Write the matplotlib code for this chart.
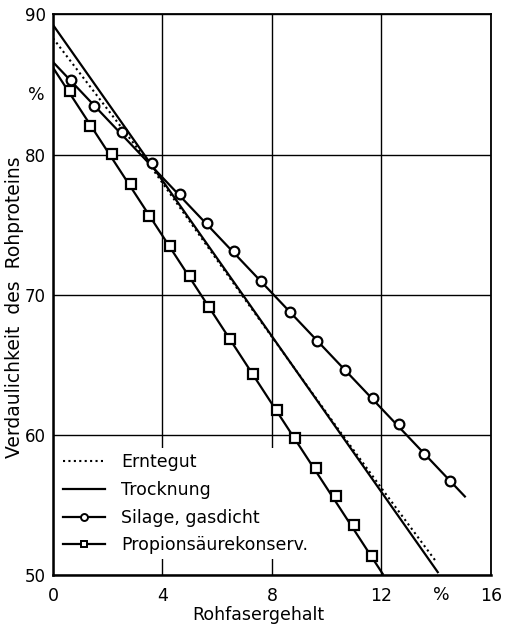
import matplotlib
matplotlib.use("Agg")
import matplotlib.pyplot as plt

# Rohfasergehalt (%) vs Verdaulichkeit des Rohproteins (%)
ernte_x = [0, 3.3, 7.0, 10.5, 12.0, 14.0]
ernte_y = [88.3, 79.9, 69.7, 60.2, 56.2, 50.95]

trock_x = [0, 14.06]
trock_y = [89.25, 50.2]

silage_line_x = [0, 15.05]
silage_line_y = [86.6, 55.6]
silage_x = [0.66, 1.51, 2.53, 3.6, 4.64, 5.63, 6.62, 7.59, 8.65, 9.65,
            10.68, 11.69, 12.63, 13.55, 14.49]
silage_y = [85.3, 83.5, 81.6, 79.4, 77.2, 75.1, 73.1, 71.0, 68.8, 66.7,
            64.6, 62.6, 60.75, 58.66, 56.74]

prop_line_x = [0, 12.05]
prop_line_y = [86.2, 50.07]
prop_x = [0.62, 1.35, 2.16, 2.85, 3.50, 4.27, 5.0, 5.70, 6.46, 7.29,
          8.19, 8.84, 9.62, 10.33, 11.0, 11.67]
prop_y = [84.53, 82.06, 80.04, 77.87, 75.63, 73.51, 71.34, 69.13, 66.87, 64.32,
          61.8, 59.8, 57.6, 55.6, 53.55, 51.38]

xticks = [0, 4, 8, 12, 16]
yticks = [50, 60, 70, 80, 90]

plt.rcParams['font.family'] = ['DejaVu Sans']

fig = plt.figure(figsize=(5.05, 6.27), dpi=100)
ax = fig.add_axes([0.105, 0.083, 0.867, 0.894])

ax.set_xlim(0, 16)
ax.set_ylim(50, 90)
ax.set_xticks(xticks)
ax.set_yticks(yticks)
ax.set_xticklabels([str(t) for t in xticks], fontsize=12.5)
ax.set_yticklabels([str(t) for t in yticks], fontsize=12)
ax.tick_params(length=0)
ax.tick_params(axis='x', pad=9)
ax.tick_params(axis='y', pad=5)
ax.grid(True, color='black', linewidth=1.0)
ax.set_axisbelow(True)
for side in ['left', 'bottom']:
    ax.spines[side].set_linewidth(1.8)
for side in ['top', 'right']:
    ax.spines[side].set_linewidth(1.3)

lw = 1.6
ax.plot(ernte_x, ernte_y, color='black', linestyle=(0, (1, 1.6)), linewidth=1.5, zorder=3)
ax.plot(trock_x, trock_y, color='black', linewidth=lw, zorder=3)
ax.plot(silage_line_x, silage_line_y, color='black', linewidth=lw, zorder=3)
ax.plot(silage_x, silage_y, linestyle='none', marker='o', markersize=7, zorder=4,
        markerfacecolor='white', markeredgecolor='black', markeredgewidth=1.6)
ax.plot(prop_line_x, prop_line_y, color='black', linewidth=lw, zorder=3)
ax.plot(prop_x, prop_y, linestyle='none', marker='s', markersize=6.5, zorder=4,
        markerfacecolor='white', markeredgecolor='black', markeredgewidth=1.6)

# legend handles
h1, = ax.plot([], [], color='black', linestyle=(0, (1, 1.6)), linewidth=1.5)
h2, = ax.plot([], [], color='black', linewidth=lw)
h3, = ax.plot([], [], color='black', linewidth=lw, marker='o', markersize=5,
              markerfacecolor='white', markeredgewidth=1.4)
h4, = ax.plot([], [], color='black', linewidth=lw, marker='s', markersize=5,
              markerfacecolor='white', markeredgewidth=1.4)
leg = ax.legend([h1, h2, h3, h4],
                ['Erntegut', 'Trocknung', 'Silage, gasdicht', 'Propionsäurekonserv.'],
                loc='upper left', bbox_to_anchor=(0.012, 0.226), fontsize=12.5,
                handlelength=2.4, handletextpad=0.9, labelspacing=0.55,
                frameon=True, framealpha=1, borderpad=0.3, borderaxespad=0)
leg.get_frame().set_edgecolor('none')
leg.get_frame().set_facecolor('white')
leg.set_zorder(1.5)

ax.text(-0.3, 84.25, '%', fontsize=12.5, ha='right', va='center', clip_on=False)
ax.text(14.2, -0.02, '%', fontsize=12.5, ha='center', va='top',
        transform=ax.get_xaxis_transform(), clip_on=False)

ax.set_xlabel('Rohfasergehalt', fontsize=12.5)
ax.xaxis.set_label_coords(0.468, -0.056)
ax.set_ylabel('Verdaulichkeit  des  Rohproteins', fontsize=13.5)
ax.yaxis.set_label_coords(-0.066, 0.478)

fig.savefig('out.png', dpi=100)
